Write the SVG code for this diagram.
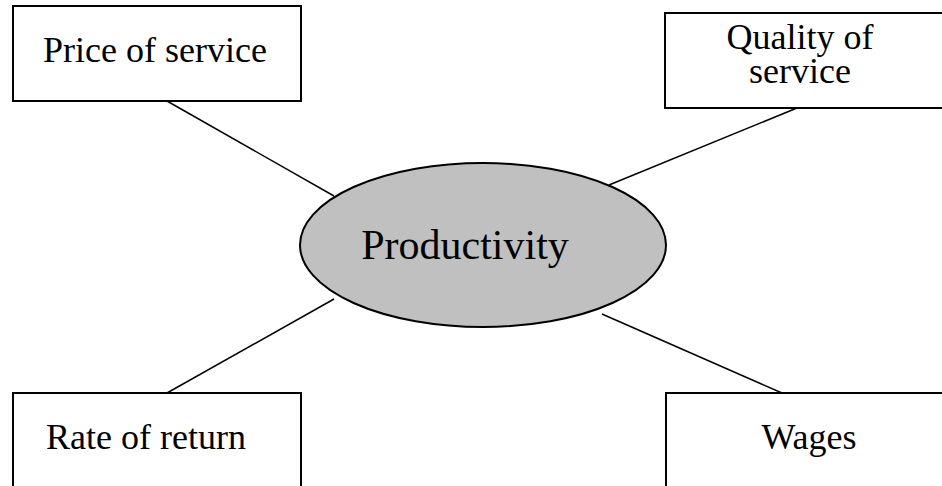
<svg xmlns="http://www.w3.org/2000/svg" width="942" height="486" viewBox="0 0 942 486">
  <style>
    .box { fill: #ffffff; stroke: #000000; stroke-width: 2; }
    .hub { fill: #c0c0c0; stroke: #000000; stroke-width: 2; }
    .link { stroke: #000000; stroke-width: 1.5; fill: none; }
    .label { font-family: "Liberation Serif", "Times New Roman", serif; font-size: 36px; fill: #000000; text-anchor: middle; }
    .hub-label { font-size: 42px; }
  </style>
  <rect width="942" height="486" fill="#ffffff"/>

  <g id="connectors">
    <line class="link" x1="167" y1="101" x2="334" y2="196"/>
    <line class="link" x1="797" y1="108" x2="609" y2="185"/>
    <line class="link" x1="167" y1="393" x2="334" y2="299"/>
    <line class="link" x1="782" y1="393" x2="602" y2="314"/>
  </g>

  <g id="price-of-service">
    <rect class="box" x="13" y="6" width="288" height="95"/>
    <text class="label" x="155" y="62">Price of service</text>
  </g>

  <g id="quality-of-service">
    <rect class="box" x="665" y="13" width="290" height="95"/>
    <text class="label" x="800" y="49">Quality of</text>
    <text class="label" x="800" y="83">service</text>
  </g>

  <g id="rate-of-return">
    <rect class="box" x="13" y="393" width="288" height="110"/>
    <text class="label" x="146" y="449">Rate of return</text>
  </g>

  <g id="wages">
    <rect class="box" x="666" y="393" width="290" height="110"/>
    <text class="label" x="809" y="449">Wages</text>
  </g>

  <g id="productivity">
    <ellipse class="hub" cx="483" cy="245" rx="183" ry="82"/>
    <text class="label hub-label" x="465" y="259">Productivity</text>
  </g>
</svg>
